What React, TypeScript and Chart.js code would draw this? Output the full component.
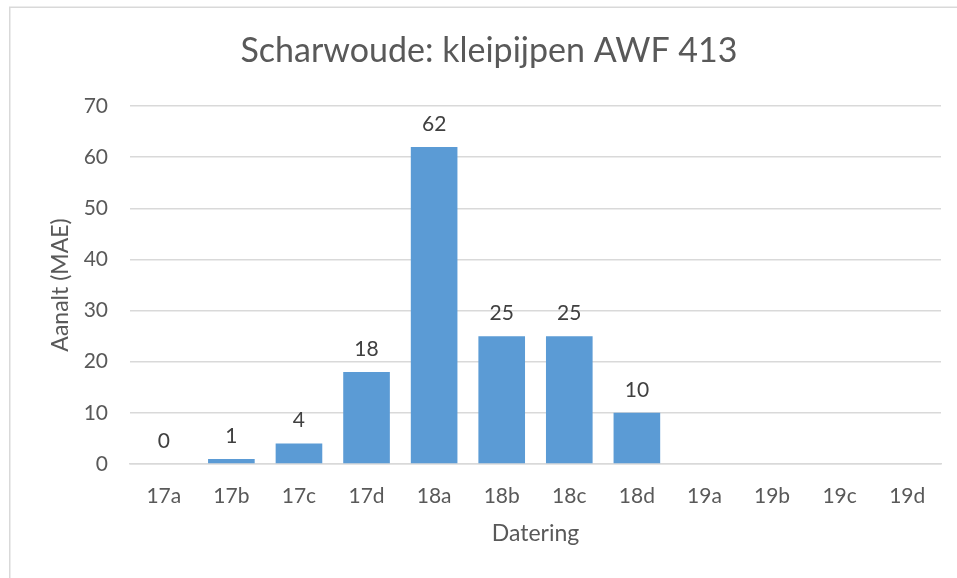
import React, { useEffect, useRef } from "react";
import { Chart, registerables } from "chart.js";

Chart.register(...registerables);

const categories = ["17a", "17b", "17c", "17d", "18a", "18b", "18c", "18d", "19a", "19b", "19c", "19d"];
const counts: (number | null)[] = [0, 1, 4, 18, 62, 25, 25, 10, null, null, null, null];
const chartTitle = "Scharwoude: kleipijpen AWF 413";
const xTitle = "Datering";
const yTitle = "Aanalt (MAE)";

const FONT = "Lato, 'Open Sans', sans-serif";
const W = 957;
const H = 578;

const frame = {
  id: "frame",
  beforeDraw(chart: any) {
    const ctx = chart.ctx;
    ctx.save();
    ctx.fillStyle = "#ffffff";
    ctx.fillRect(0, 0, chart.width, chart.height);
    ctx.strokeStyle = "#d9d9d9";
    ctx.lineWidth = 1.5;
    ctx.strokeRect(9.75, 7.25, 2000, 2000);
    ctx.restore();
  },
  afterDraw(chart: any) {
    const ctx = chart.ctx;
    ctx.save();
    ctx.font = `34px ${FONT}`;
    ctx.fillStyle = "#595959";
    ctx.textAlign = "center";
    ctx.textBaseline = "middle";
    ctx.fillText(chartTitle, 489, 51);
    ctx.restore();
  },
};

const valueLabels = {
  id: "valueLabels",
  afterDatasetsDraw(chart: any) {
    const ctx = chart.ctx;
    const meta = chart.getDatasetMeta(0);
    const data = chart.data.datasets[0].data;
    ctx.save();
    ctx.font = `21px ${FONT}`;
    ctx.fillStyle = "#404040";
    ctx.textAlign = "center";
    ctx.textBaseline = "middle";
    meta.data.forEach((bar: any, i: number) => {
      const v = data[i];
      if (v === null || v === undefined) return;
      ctx.fillText(String(v), bar.x, bar.y - 23);
    });
    ctx.restore();
  },
};

export default function App() {
  const ref = useRef<HTMLCanvasElement>(null);
  useEffect(() => {
    const chart = new Chart(ref.current!, {
      type: "bar",
      data: {
        labels: categories,
        datasets: [
          {
            data: counts,
            backgroundColor: "#5b9bd5",
            borderWidth: 0,
            barPercentage: 0.69,
            categoryPercentage: 1,
          },
        ],
      },
      options: {
        animation: false,
        responsive: false,
        layout: { padding: { left: 0, right: 16, top: 106, bottom: 0 } },
        plugins: {
          legend: { display: false },
          tooltip: { enabled: false },
          title: { display: false },
        },
        scales: {
          x: {
            afterFit(scale: any) {
              scale.height = 114;
            },
            grid: { display: false, drawTicks: false },
            border: { display: true, color: "#d9d9d9", width: 1.5 },
            ticks: {
              color: "#595959",
              font: { family: FONT, size: 21 },
              padding: 20,
              maxRotation: 0,
            },
            title: {
              display: true,
              text: xTitle,
              color: "#595959",
              font: { family: FONT, size: 23 },
              padding: { top: 0, bottom: 31 },
            },
          },
          y: {
            min: 0,
            max: 70,
            afterFit(scale: any) {
              scale.width = 130;
            },
            grid: { color: "#d9d9d9", lineWidth: 1.5, drawTicks: false },
            border: { display: false },
            ticks: {
              stepSize: 10,
              color: "#595959",
              font: { family: FONT, size: 21 },
              padding: 22,
            },
            title: {
              display: true,
              text: yTitle,
              color: "#595959",
              font: { family: FONT, size: 23 },
              padding: { top: 47, bottom: 0 },
            },
          },
        },
      },
      plugins: [frame, valueLabels],
    } as any);
    return () => chart.destroy();
  }, []);
  return (
    <div style={{ position: "absolute", left: 0, top: 0, width: W, height: H }}>
      <canvas ref={ref} width={W} height={H} style={{ display: "block" }} />
    </div>
  );
}
